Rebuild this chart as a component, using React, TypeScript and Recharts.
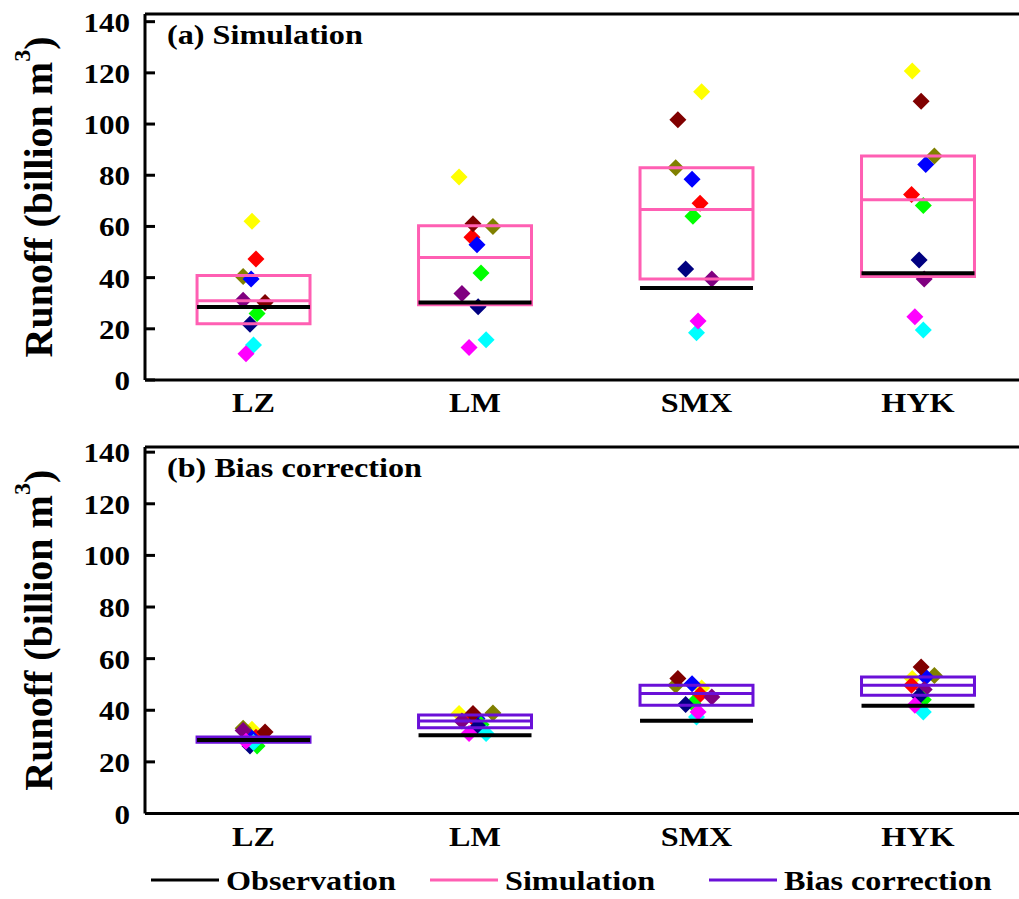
import React from "react";
import {
  ComposedChart,
  Label,
  ReferenceArea,
  ReferenceLine,
  Scatter,
  XAxis,
  YAxis,
} from "recharts";

// stations along the x axis (numeric positions 1..4)
const STATIONS = ["LZ", "LM", "SMX", "HYK"];
const STATION_POS = [1, 2, 3, 4];
const Y_TICKS = [0, 20, 40, 60, 80, 100, 120, 140];

// one colour per climate model
const MODEL_COLORS = [
  "#ffff00", "#ff0000", "#808000", "#0000ff", "#800080",
  "#800000", "#00ff00", "#000080", "#00ffff", "#ff00ff",
];

// small horizontal jitter of each model's marker at each station
const MODEL_JITTER = [
  [-0.007, -0.072, 0.023, -0.026],
  [0.011, -0.014, 0.016, -0.029],
  [-0.047, 0.081, -0.094, 0.074],
  [-0.011, 0.009, -0.02, 0.035],
  [-0.047, -0.059, 0.069, 0.028],
  [0.052, -0.009, -0.084, 0.014],
  [0.016, 0.027, -0.016, 0.024],
  [-0.016, 0.014, -0.049, 0.005],
  [0, 0.05, 0, 0.024],
  [-0.034, -0.027, 0.007, -0.014],
];

// simulated runoff per model (LZ, LM, SMX, HYK)
const SIM_RUNOFF = [
  [62, 79.3, 112.6, 120.7],
  [47.3, 55.8, 69.1, 72.5],
  [40.4, 60, 82.9, 87.5],
  [39.5, 52.8, 78.4, 84.2],
  [31.2, 33.8, 39.5, 39.5],
  [30.3, 61, 101.7, 108.9],
  [26, 41.8, 64, 68.2],
  [21.8, 28.6, 43.4, 46.9],
  [13.7, 15.7, 18.5, 19.5],
  [10.3, 12.7, 23.1, 24.7],
];

// bias-corrected runoff per model
const BC_RUNOFF = [
  [32.6, 38.7, 48.6, 52.3],
  [29.5, 37.5, 46.1, 49.7],
  [33, 38.9, 49.7, 53.5],
  [29.5, 36.8, 50.3, 52.9],
  [32.2, 35.8, 45.1, 48],
  [31.6, 38.7, 52.3, 56.8],
  [26.2, 34.5, 42.6, 44.1],
  [26.2, 33.8, 42.2, 45.4],
  [27.5, 31, 37.4, 39.3],
  [28, 31, 39.3, 41.9],
];

const OBSERVED = [28.5, 30.3, 35.9, 41.7];

const SIM_Q1 = [22, 29.4, 39.5, 40.4];
const SIM_MEDIAN = [31, 47.9, 66.6, 70.4];
const SIM_Q3 = [40.8, 60.3, 82.9, 87.5];

const BC_Q1 = [27.6, 33.2, 41.9, 45.8];
const BC_MEDIAN = [28.8, 35.8, 46.5, 49.7];
const BC_Q3 = [29.6, 38.2, 49.7, 52.9];

const PINK = "#ff5fb3";
const PURPLE = "#6a10d8";
const FONT = "'Liberation Serif', 'Times New Roman', serif";
const STRETCH = 1.15;
const HALF_BOX = 0.255;
const TOP_Z = 700;

const Diamond = (props: any) => {
  const { cx, cy, fill } = props;
  if (cx == null || cy == null) return null;
  const r = 8.5;
  return (
    <polygon
      points={`${cx},${cy - r} ${cx + r},${cy} ${cx},${cy + r} ${cx - r},${cy}`}
      fill={fill}
    />
  );
};

const YTick = (props: any) => {
  const { x, y, payload } = props;
  return (
    <text
      transform={`translate(${x},${y}) scale(${STRETCH},1)`}
      dy={10}
      textAnchor="end"
      fontFamily={FONT}
      fontWeight="bold"
      fontSize={27}
      fill="#000"
    >
      {payload.value}
    </text>
  );
};

const XTick = (props: any) => {
  const { x, y, payload } = props;
  return (
    <text
      transform={`translate(${x},${y}) scale(${STRETCH},1)`}
      dy={19}
      textAnchor="middle"
      fontFamily={FONT}
      fontWeight="bold"
      fontSize={28}
      fill="#000"
    >
      {STATIONS[payload.value - 1]}
    </text>
  );
};

const YLabel = (props: any) => {
  const { viewBox } = props;
  const cx = 52;
  const cy = viewBox.y + viewBox.height / 2;
  return (
    <text
      x={cx}
      y={cy}
      transform={`rotate(-90, ${cx}, ${cy})`}
      textAnchor="middle"
      fontFamily={FONT}
      fontWeight="bold"
      fontSize={40}
      fill="#000"
    >
      Runoff (billion m
      <tspan fontSize={24} dy={-22}>3</tspan>
      <tspan dy={22}>)</tspan>
    </text>
  );
};

interface PanelProps {
  height: number;
  marginTop: number;
  marginBottom: number;
  yMax: number;
  runoff: number[][];
  q1: number[];
  median: number[];
  q3: number[];
  boxColor: string;
}

function Panel({ height, marginTop, marginBottom, yMax, runoff, q1, median, q3, boxColor }: PanelProps) {
  return (
    <ComposedChart
      width={1019}
      height={height}
      margin={{ top: marginTop, right: 0, bottom: marginBottom, left: 0 }}
    >
      <XAxis
        type="number"
        dataKey="x"
        domain={[0.51, 4.456]}
        ticks={STATION_POS}
        allowDataOverflow
        tickLine={false}
        tickMargin={7}
        height={40}
        axisLine={{ stroke: "#000", strokeWidth: 3 }}
        tick={<XTick />}
      />
      <YAxis
        type="number"
        dataKey="y"
        domain={[0, yMax]}
        ticks={Y_TICKS}
        allowDataOverflow
        width={145}
        tickSize={-10}
        tickMargin={25}
        axisLine={{ stroke: "#000", strokeWidth: 3 }}
        tickLine={{ stroke: "#000", strokeWidth: 3 }}
        tick={<YTick />}
      >
        <Label content={<YLabel />} />
      </YAxis>
      {MODEL_COLORS.map((color, m) => (
        <Scatter
          key={color}
          data={STATION_POS.map((pos, i) => ({ x: pos + MODEL_JITTER[m][i], y: runoff[m][i] }))}
          fill={color}
          shape={<Diamond />}
          isAnimationActive={false}
        />
      ))}
      {STATION_POS.map((pos, i) => (
        <ReferenceArea
          key={`box-${pos}`}
          x1={pos - HALF_BOX}
          x2={pos + HALF_BOX}
          y1={q1[i]}
          y2={q3[i]}
          fill="none"
          fillOpacity={0}
          stroke={boxColor}
          strokeWidth={3}
          ifOverflow="visible"
          zIndex={TOP_Z}
        />
      ))}
      {STATION_POS.map((pos, i) => (
        <ReferenceLine
          key={`med-${pos}`}
          segment={[
            { x: pos - HALF_BOX, y: median[i] },
            { x: pos + HALF_BOX, y: median[i] },
          ]}
          stroke={boxColor}
          strokeWidth={3}
          ifOverflow="visible"
          zIndex={TOP_Z}
        />
      ))}
      {STATION_POS.map((pos, i) => (
        <ReferenceLine
          key={`obs-${pos}`}
          segment={[
            { x: pos - HALF_BOX, y: OBSERVED[i] },
            { x: pos + HALF_BOX, y: OBSERVED[i] },
          ]}
          stroke="#000"
          strokeWidth={4}
          ifOverflow="visible"
          zIndex={TOP_Z + 1}
        />
      ))}
      <ReferenceLine y={yMax} stroke="#000" strokeWidth={3} ifOverflow="visible" />
    </ComposedChart>
  );
}

const LEGEND = [
  { label: "Observation", color: "#000", x: 151 },
  { label: "Simulation", color: PINK, x: 430 },
  { label: "Bias correction", color: PURPLE, x: 709 },
];

export default function App() {
  return (
    <div style={{ position: "absolute", left: 0, top: 0, width: 1019, height: 899, background: "#fff" }}>
      <div style={{ position: "absolute", left: 0, top: 0 }}>
        <Panel
          height={430}
          marginTop={14}
          marginBottom={10}
          yMax={143}
          runoff={SIM_RUNOFF}
          q1={SIM_Q1}
          median={SIM_MEDIAN}
          q3={SIM_Q3}
          boxColor={PINK}
        />
      </div>
      <div style={{ position: "absolute", left: 0, top: 430 }}>
        <Panel
          height={469}
          marginTop={17}
          marginBottom={45.5}
          yMax={142}
          runoff={BC_RUNOFF}
          q1={BC_Q1}
          median={BC_MEDIAN}
          q3={BC_Q3}
          boxColor={PURPLE}
        />
      </div>
      <svg
        width={1019}
        height={899}
        style={{ position: "absolute", left: 0, top: 0, pointerEvents: "none" }}
      >
        <g fontFamily={FONT} fontWeight="bold" fontSize={28} fill="#000">
          <text transform={`translate(167,44) scale(${STRETCH},1)`}>(a) Simulation</text>
          <text transform={`translate(167,477) scale(${STRETCH},1)`}>(b) Bias correction</text>
          {LEGEND.map((item) => (
            <g key={item.label}>
              <line x1={item.x} x2={item.x + 68} y1={880} y2={880} stroke={item.color} strokeWidth={3} />
              <text transform={`translate(${item.x + 75},890) scale(${STRETCH},1)`}>{item.label}</text>
            </g>
          ))}
        </g>
      </svg>
    </div>
  );
}
